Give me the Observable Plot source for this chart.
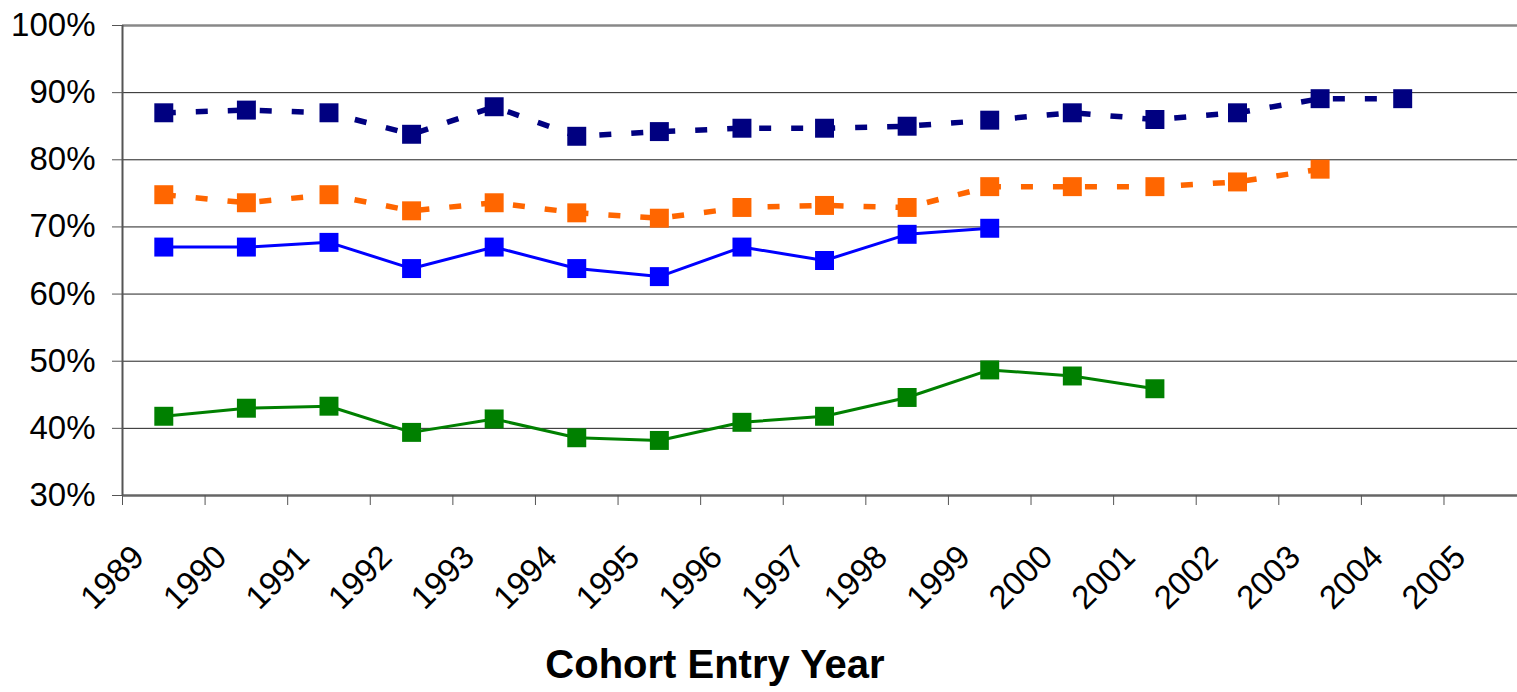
<!DOCTYPE html>
<html>
<head>
<meta charset="utf-8">
<script src="https://cdn.jsdelivr.net/npm/d3@7"></script>
<script src="https://cdn.jsdelivr.net/npm/@observablehq/plot@0.6"></script>
<style>
  html, body { margin: 0; padding: 0; background: #fff; }
  #title { width: 1430px; text-align: center; font: bold 40px "Liberation Sans", Arial, sans-serif; line-height: 48px; color: #000; }
</style>
</head>
<body>
<div id="chart"></div>
<div id="title">Cohort Entry Year</div>
<script>
// Data (percent values)
const years = [1989, 1990, 1991, 1992, 1993, 1994, 1995, 1996, 1997, 1998, 1999, 2000, 2001, 2002, 2003, 2004];
const seriesNavy   = [87.0, 87.4, 87.0, 83.8, 87.9, 83.5, 84.2, 84.7, 84.7, 85.0, 85.9, 87.0, 86.0, 87.0, 89.1, 89.1];
const seriesOrange = [74.8, 73.6, 74.8, 72.4, 73.6, 72.1, 71.3, 72.9, 73.2, 72.9, 76.0, 76.0, 76.0, 76.7, 78.6];
const seriesBlue   = [67.0, 67.0, 67.7, 63.8, 67.0, 63.8, 62.6, 67.0, 65.0, 68.9, 69.8];
const seriesGreen  = [41.8, 43.0, 43.3, 39.4, 41.4, 38.6, 38.2, 40.9, 41.8, 44.6, 48.7, 47.8, 45.9];
const yTicks = [30, 40, 50, 60, 70, 80, 90, 100];
const gridTicks = [40, 50, 60, 70, 80, 90];
const xTicks = [1989, 1990, 1991, 1992, 1993, 1994, 1995, 1996, 1997, 1998, 1999, 2000, 2001, 2002, 2003, 2004, 2005];

const series = [
  {name: "navy", values: seriesNavy, color: "#000080", dash: "12,20", width: 5.5},
  {name: "orange", values: seriesOrange, color: "#FF6600", dash: "12,20", width: 5.5},
  {name: "blue", values: seriesBlue, color: "#0000FF", dash: null, width: 3},
  {name: "green", values: seriesGreen, color: "#008000", dash: null, width: 3}
];
const toRows = s => s.values.map((v, i) => ({year: years[i], value: v}));

const marks = [
  Plot.ruleY(gridTicks, {stroke: "#222", strokeWidth: 1}),
  Plot.ruleY([100], {stroke: "#888", strokeWidth: 2.5}),
  Plot.ruleY([30], {stroke: "#666", strokeWidth: 2.5}),
  Plot.ruleX([1989], {stroke: "#555", strokeWidth: 2}),
  Plot.axisY({ticks: yTicks, tickFormat: d => d + "%", tickSize: 10, tickPadding: 17, stroke: "#555", fontSize: 33, label: null}),
  // tick marks only
  Plot.axisX({ticks: xTicks, tickFormat: () => "", tickSize: 10, stroke: "#555", label: null}),
  // rotated labels only
  Plot.axisX({ticks: xTicks, tickFormat: d => String(d), tickRotate: -45, tickSize: 0, tickPadding: 56, dx: 16, fontSize: 33, label: null})
];
for (const s of series) {
  const rows = toRows(s);
  marks.push(Plot.line(rows, {x: d => d.year + 0.5, y: "value", stroke: s.color, strokeWidth: s.width, strokeDasharray: s.dash, strokeLinecap: "butt", strokeLinejoin: "miter"}));
}
for (const s of series) {
  const rows = toRows(s);
  marks.push(Plot.dot(rows, {x: d => d.year + 0.5, y: "value", symbol: "square", r: 10.7, fill: s.color, stroke: "none"}));
}

const chart = Plot.plot({
  width: 1517,
  height: 640,
  marginLeft: 122,
  marginRight: 0,
  marginTop: 25,
  marginBottom: 145,
  style: {fontFamily: "'Liberation Sans', Arial, sans-serif", fontSize: "33px", color: "#000", background: "#fff"},
  x: {domain: [1989, 2005.89]},
  y: {domain: [30, 100]},
  marks
});
document.getElementById("chart").appendChild(chart);
</script>
</body>
</html>
